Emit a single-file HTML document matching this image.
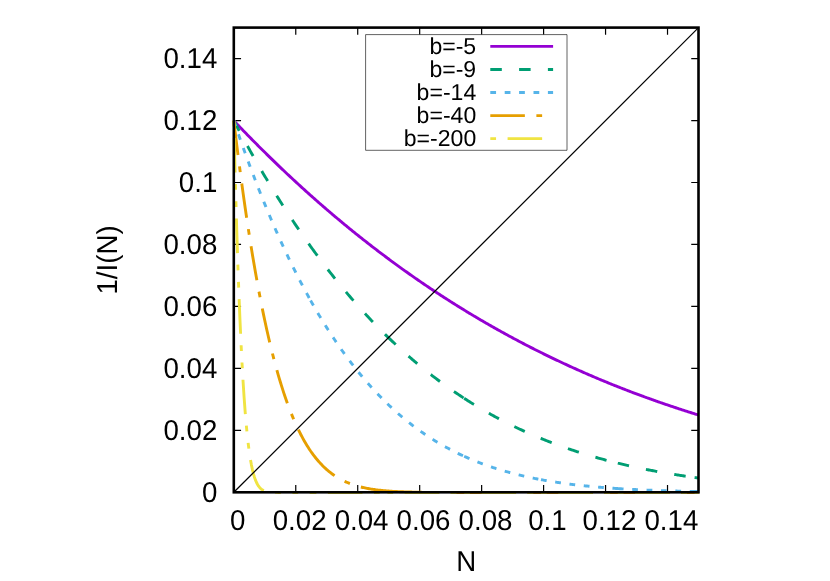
<!DOCTYPE html>
<html><head><meta charset="utf-8"><title>plot</title>
<style>
html,body{margin:0;padding:0;background:#fff;}
svg{display:block;will-change:transform;}
text{font-family:"Liberation Sans",sans-serif;font-size:27.67px;fill:#000;text-rendering:geometricPrecision;}
</style></head><body>
<svg width="830" height="581" viewBox="0 0 830 581">
<rect width="830" height="581" fill="#fff"/>
<path d="M295.76 492.30 v-7.26 M295.76 27.60 v7.26 M233.80 430.34 h7.26 M698.50 430.34 h-7.26 M357.72 492.30 v-7.26 M357.72 27.60 v7.26 M233.80 368.38 h7.26 M698.50 368.38 h-7.26 M419.68 492.30 v-7.26 M419.68 27.60 v7.26 M233.80 306.42 h7.26 M698.50 306.42 h-7.26 M481.64 492.30 v-7.26 M481.64 27.60 v7.26 M233.80 244.46 h7.26 M698.50 244.46 h-7.26 M543.60 492.30 v-7.26 M543.60 27.60 v7.26 M233.80 182.50 h7.26 M698.50 182.50 h-7.26 M605.56 492.30 v-7.26 M605.56 27.60 v7.26 M233.80 120.54 h7.26 M698.50 120.54 h-7.26 M667.52 492.30 v-7.26 M667.52 27.60 v7.26 M233.80 58.58 h7.26 M698.50 58.58 h-7.26" stroke="#000" stroke-width="1.2" fill="none"/>
<rect x="365.6" y="34.6" width="201.4" height="115.7" fill="#fff" stroke="#000" stroke-width="0.62" stroke-linejoin="round"/>
<g fill="none" stroke-width="2.9" stroke-linejoin="round">
<path d="M233.80 120.69 L234.83 121.78 L235.87 122.86 L236.90 123.95 L237.93 125.03 L238.96 126.11 L240.00 127.18 L241.03 128.26 L242.06 129.33 L243.09 130.40 L244.13 131.46 L245.16 132.53 L246.19 133.59 L247.22 134.65 L248.26 135.71 L249.29 136.76 L250.32 137.82 L251.36 138.87 L252.39 139.92 L253.42 140.96 L254.45 142.01 L255.49 143.05 L256.52 144.09 L257.55 145.12 L258.58 146.16 L259.62 147.19 L260.65 148.22 L261.68 149.25 L262.71 150.27 L263.75 151.30 L264.78 152.32 L265.81 153.33 L266.85 154.35 L267.88 155.36 L268.91 156.38 L269.94 157.39 L270.98 158.39 L272.01 159.40 L273.04 160.40 L274.07 161.40 L275.11 162.40 L276.14 163.39 L277.17 164.39 L278.20 165.38 L279.24 166.37 L280.27 167.35 L281.30 168.34 L282.34 169.32 L283.37 170.30 L284.40 171.28 L285.43 172.25 L286.47 173.23 L287.50 174.20 L288.53 175.17 L289.56 176.14 L290.60 177.10 L291.63 178.06 L292.66 179.02 L293.69 179.98 L294.73 180.94 L295.76 181.89 L296.79 182.84 L297.83 183.79 L298.86 184.74 L299.89 185.68 L300.92 186.62 L301.96 187.56 L302.99 188.50 L304.02 189.44 L305.05 190.37 L306.09 191.30 L307.12 192.23 L308.15 193.16 L309.18 194.08 L310.22 195.01 L310.60 195.35 M310.60 195.35 L311.25 195.93 L312.28 196.85 L313.32 197.76 L314.35 198.68 L315.38 199.59 L316.41 200.50 L317.45 201.41 L318.48 202.31 L319.51 203.22 L320.54 204.12 L321.58 205.02 L322.61 205.92 L323.64 206.81 L324.67 207.70 L325.71 208.59 L326.74 209.48 L327.77 210.37 L328.81 211.25 L329.84 212.14 L330.87 213.02 L331.90 213.90 L332.94 214.77 L333.97 215.65 L335.00 216.52 L336.03 217.39 L337.07 218.25 L338.10 219.12 L339.13 219.98 L340.16 220.85 L341.20 221.70 L342.23 222.56 L343.26 223.42 L344.30 224.27 L345.33 225.12 L346.36 225.97 L347.39 226.82 L348.43 227.66 L349.46 228.51 L350.49 229.35 L351.52 230.19 L352.56 231.02 L353.59 231.86 L354.62 232.69 L355.65 233.52 L356.69 234.35 L357.72 235.18 L358.75 236.00 L359.79 236.82 L360.82 237.64 L361.85 238.46 L362.88 239.28 L363.92 240.09 L364.95 240.90 L365.98 241.72 L367.01 242.52 L368.05 243.33 L369.08 244.13 L370.11 244.94 L371.14 245.74 L372.18 246.54 L373.21 247.33 L374.24 248.13 L375.28 248.92 L376.31 249.71 L377.34 250.50 L378.37 251.29 L379.41 252.07 L380.44 252.85 L381.47 253.63 L382.50 254.41 L383.54 255.19 L384.57 255.96 L385.60 256.74 L386.63 257.51 L387.40 258.08 M387.40 258.08 L387.67 258.28 L388.70 259.04 L389.73 259.81 L390.77 260.57 L391.80 261.33 L392.83 262.09 L393.86 262.85 L394.90 263.61 L395.93 264.36 L396.96 265.11 L397.99 265.86 L399.03 266.61 L400.06 267.35 L401.09 268.10 L402.12 268.84 L403.16 269.58 L404.19 270.32 L405.22 271.06 L406.26 271.79 L407.29 272.52 L408.32 273.25 L409.35 273.98 L410.39 274.71 L411.42 275.43 L412.45 276.16 L413.48 276.88 L414.52 277.60 L415.55 278.32 L416.58 279.03 L417.61 279.75 L418.65 280.46 L419.68 281.17 L420.71 281.88 L421.75 282.58 L422.78 283.29 L423.81 283.99 L424.84 284.69 L425.88 285.39 L426.91 286.09 L427.94 286.78 L428.97 287.48 L430.01 288.17 L431.04 288.86 L432.07 289.55 L433.10 290.23 L434.14 290.92 L435.17 291.60 L436.20 292.28 L437.24 292.96 L438.27 293.64 L439.30 294.31 L440.33 294.99 L441.37 295.66 L442.40 296.33 L443.43 297.00 L444.46 297.67 L445.50 298.33 L446.53 298.99 L447.56 299.65 L448.59 300.31 L449.63 300.97 L450.66 301.63 L451.69 302.28 L452.73 302.94 L453.76 303.59 L454.79 304.23 L455.82 304.88 L456.86 305.53 L457.89 306.17 L458.92 306.81 L459.95 307.45 L460.99 308.09 L462.02 308.73 L463.05 309.36 L464.08 310.00 L464.20 310.07 M464.20 310.07 L465.12 310.63 L466.15 311.26 L467.18 311.89 L468.22 312.51 L469.25 313.14 L470.28 313.76 L471.31 314.38 L472.35 315.00 L473.38 315.62 L474.41 316.24 L475.44 316.85 L476.48 317.47 L477.51 318.08 L478.54 318.69 L479.57 319.29 L480.61 319.90 L481.64 320.50 L482.67 321.11 L483.71 321.71 L484.74 322.31 L485.77 322.91 L486.80 323.50 L487.84 324.10 L488.87 324.69 L489.90 325.28 L490.93 325.87 L491.97 326.46 L493.00 327.05 L494.03 327.63 L495.06 328.21 L496.10 328.79 L497.13 329.37 L498.16 329.95 L499.20 330.53 L500.23 331.10 L501.26 331.68 L502.29 332.25 L503.33 332.82 L504.36 333.39 L505.39 333.95 L506.42 334.52 L507.46 335.08 L508.49 335.65 L509.52 336.21 L510.55 336.76 L511.59 337.32 L512.62 337.88 L513.65 338.43 L514.69 338.98 L515.72 339.54 L516.75 340.09 L517.78 340.63 L518.82 341.18 L519.85 341.72 L520.88 342.27 L521.91 342.81 L522.95 343.35 L523.98 343.89 L525.01 344.42 L526.04 344.96 L527.08 345.49 L528.11 346.03 L529.14 346.56 L530.18 347.09 L531.21 347.61 L532.24 348.14 L533.27 348.66 L534.31 349.19 L535.34 349.71 L536.37 350.23 L537.40 350.75 L538.44 351.27 L539.47 351.78 L540.50 352.30 L541.00 352.54 M541.00 352.54 L541.53 352.81 L542.57 353.32 L543.60 353.83 L544.63 354.34 L545.67 354.84 L546.70 355.35 L547.73 355.85 L548.76 356.35 L549.80 356.85 L550.83 357.35 L551.86 357.85 L552.89 358.35 L553.93 358.84 L554.96 359.34 L555.99 359.83 L557.02 360.32 L558.06 360.81 L559.09 361.29 L560.12 361.78 L561.16 362.27 L562.19 362.75 L563.22 363.23 L564.25 363.71 L565.29 364.19 L566.32 364.67 L567.35 365.14 L568.38 365.62 L569.42 366.09 L570.45 366.56 L571.48 367.03 L572.51 367.50 L573.55 367.97 L574.58 368.44 L575.61 368.90 L576.65 369.36 L577.68 369.83 L578.71 370.29 L579.74 370.75 L580.78 371.20 L581.81 371.66 L582.84 372.11 L583.87 372.57 L584.91 373.02 L585.94 373.47 L586.97 373.92 L588.00 374.37 L589.04 374.82 L590.07 375.26 L591.10 375.70 L592.14 376.15 L593.17 376.59 L594.20 377.03 L595.23 377.47 L596.27 377.90 L597.30 378.34 L598.33 378.77 L599.36 379.21 L600.40 379.64 L601.43 380.07 L602.46 380.50 L603.49 380.93 L604.53 381.35 L605.56 381.78 L606.59 382.20 L607.63 382.63 L608.66 383.05 L609.69 383.47 L610.72 383.89 L611.76 384.30 L612.79 384.72 L613.82 385.13 L614.85 385.55 L615.89 385.96 L616.92 386.37 L617.80 386.72 M617.80 386.72 L617.95 386.78 L618.98 387.19 L620.02 387.60 L621.05 388.00 L622.08 388.41 L623.12 388.81 L624.15 389.21 L625.18 389.61 L626.21 390.01 L627.25 390.41 L628.28 390.81 L629.31 391.20 L630.34 391.60 L631.38 391.99 L632.41 392.38 L633.44 392.77 L634.47 393.16 L635.51 393.55 L636.54 393.94 L637.57 394.32 L638.61 394.71 L639.64 395.09 L640.67 395.47 L641.70 395.85 L642.74 396.23 L643.77 396.61 L644.80 396.99 L645.83 397.36 L646.87 397.74 L647.90 398.11 L648.93 398.48 L649.96 398.85 L651.00 399.22 L652.03 399.59 L653.06 399.96 L654.10 400.33 L655.13 400.69 L656.16 401.06 L657.19 401.42 L658.23 401.78 L659.26 402.14 L660.29 402.50 L661.32 402.86 L662.36 403.22 L663.39 403.57 L664.42 403.93 L665.45 404.28 L666.49 404.63 L667.52 404.98 L668.55 405.33 L669.59 405.68 L670.62 406.03 L671.65 406.38 L672.68 406.72 L673.72 407.07 L674.75 407.41 L675.78 407.75 L676.81 408.09 L677.85 408.43 L678.88 408.77 L679.91 409.11 L680.94 409.44 L681.98 409.78 L683.01 410.11 L684.04 410.45 L685.08 410.78 L686.11 411.11 L687.14 411.44 L688.17 411.77 L689.21 412.09 L690.24 412.42 L691.27 412.75 L692.30 413.07 L693.34 413.39 L694.37 413.72 L694.60 413.79 M694.60 413.79 L695.40 414.04 L696.43 414.36 L697.47 414.68 L698.50 414.99" stroke="#9400d3"/>
<path d="M233.80 120.69 L234.83 122.65 L235.87 124.60 L236.90 126.54 L237.93 128.47 L238.96 130.40 L240.00 132.32 L241.03 134.23 L242.06 136.13 L243.09 138.03 L244.13 139.92 L245.16 141.80 L246.19 143.67 L247.22 145.54 L248.26 147.40 L249.29 149.25 L250.32 151.09 L251.36 152.93 L252.39 154.76 L253.42 156.58 L254.45 158.39 L255.49 160.20 L256.52 162.00 L257.55 163.79 L258.58 165.58 L259.62 167.35 L260.65 169.13 L261.68 170.89 L262.71 172.64 L263.75 174.39 L264.78 176.14 L265.81 177.87 L266.85 179.60 L267.88 181.32 L268.91 183.03 L269.94 184.74 L270.98 186.43 L272.01 188.13 L273.04 189.81 L274.07 191.49 L275.11 193.16 L276.14 194.82 L277.17 196.48 L278.20 198.13 L279.24 199.77 L280.27 201.41 L281.30 203.04 L282.34 204.66 L283.37 206.27 L284.40 207.88 L285.43 209.48 L286.47 211.08 L287.50 212.66 L288.53 214.25 L289.56 215.82 L290.60 217.39 L291.63 218.95 L292.66 220.50 L293.69 222.05 L294.73 223.59 L295.76 225.12 L296.79 226.65 L297.83 228.17 L298.86 229.68 L299.89 231.19 L300.92 232.69 L301.96 234.18 L302.99 235.67 L304.02 237.15 L305.05 238.62 L306.09 240.09 L307.12 241.55 L308.15 243.01 L309.18 244.46 L310.22 245.90 L310.60 246.43 M310.60 246.43 L311.25 247.33 L312.28 248.76 L313.32 250.18 L314.35 251.60 L315.38 253.01 L316.41 254.41 L317.45 255.81 L318.48 257.20 L319.51 258.58 L320.54 259.96 L321.58 261.33 L322.61 262.70 L323.64 264.06 L324.67 265.41 L325.71 266.76 L326.74 268.10 L327.77 269.43 L328.81 270.76 L329.84 272.08 L330.87 273.40 L331.90 274.71 L332.94 276.01 L333.97 277.31 L335.00 278.60 L336.03 279.89 L337.07 281.17 L338.10 282.44 L339.13 283.71 L340.16 284.97 L341.20 286.23 L342.23 287.48 L343.26 288.72 L344.30 289.96 L345.33 291.19 L346.36 292.42 L347.39 293.64 L348.43 294.85 L349.46 296.06 L350.49 297.27 L351.52 298.46 L352.56 299.65 L353.59 300.84 L354.62 302.02 L355.65 303.20 L356.69 304.36 L357.72 305.53 L358.75 306.69 L359.79 307.84 L360.82 308.98 L361.85 310.12 L362.88 311.26 L363.92 312.39 L364.95 313.51 L365.98 314.63 L367.01 315.74 L368.05 316.85 L369.08 317.95 L370.11 319.05 L371.14 320.14 L372.18 321.23 L373.21 322.31 L374.24 323.38 L375.28 324.45 L376.31 325.52 L377.34 326.58 L378.37 327.63 L379.41 328.68 L380.44 329.72 L381.47 330.76 L382.50 331.79 L383.54 332.82 L384.57 333.84 L385.60 334.86 L386.63 335.87 L387.40 336.62 M387.40 336.62 L387.67 336.88 L388.70 337.88 L389.73 338.87 L390.77 339.87 L391.80 340.85 L392.83 341.83 L393.86 342.81 L394.90 343.78 L395.93 344.75 L396.96 345.71 L397.99 346.66 L399.03 347.61 L400.06 348.56 L401.09 349.50 L402.12 350.44 L403.16 351.37 L404.19 352.30 L405.22 353.22 L406.26 354.13 L407.29 355.05 L408.32 355.95 L409.35 356.85 L410.39 357.75 L411.42 358.65 L412.45 359.53 L413.48 360.42 L414.52 361.29 L415.55 362.17 L416.58 363.04 L417.61 363.90 L418.65 364.76 L419.68 365.62 L420.71 366.47 L421.75 367.31 L422.78 368.16 L423.81 368.99 L424.84 369.83 L425.88 370.65 L426.91 371.48 L427.94 372.30 L428.97 373.11 L430.01 373.92 L431.04 374.73 L432.07 375.53 L433.10 376.32 L434.14 377.12 L435.17 377.90 L436.20 378.69 L437.24 379.47 L438.27 380.24 L439.30 381.01 L440.33 381.78 L441.37 382.54 L442.40 383.30 L443.43 384.05 L444.46 384.80 L445.50 385.55 L446.53 386.29 L447.56 387.03 L448.59 387.76 L449.63 388.49 L450.66 389.21 L451.69 389.93 L452.73 390.65 L453.76 391.36 L454.79 392.07 L455.82 392.77 L456.86 393.47 L457.89 394.17 L458.92 394.86 L459.95 395.55 L460.99 396.23 L462.02 396.91 L463.05 397.59 L464.08 398.26 L464.20 398.34 M464.20 398.34 L465.12 398.93 L466.15 399.59 L467.18 400.25 L468.22 400.91 L469.25 401.56 L470.28 402.21 L471.31 402.86 L472.35 403.50 L473.38 404.14 L474.41 404.77 L475.44 405.40 L476.48 406.03 L477.51 406.65 L478.54 407.27 L479.57 407.89 L480.61 408.50 L481.64 409.11 L482.67 409.71 L483.71 410.31 L484.74 410.91 L485.77 411.50 L486.80 412.09 L487.84 412.68 L488.87 413.26 L489.90 413.84 L490.93 414.42 L491.97 414.99 L493.00 415.56 L494.03 416.13 L495.06 416.69 L496.10 417.25 L497.13 417.81 L498.16 418.36 L499.20 418.91 L500.23 419.45 L501.26 419.99 L502.29 420.53 L503.33 421.07 L504.36 421.60 L505.39 422.13 L506.42 422.65 L507.46 423.18 L508.49 423.70 L509.52 424.21 L510.55 424.72 L511.59 425.23 L512.62 425.74 L513.65 426.24 L514.69 426.74 L515.72 427.24 L516.75 427.73 L517.78 428.22 L518.82 428.71 L519.85 429.20 L520.88 429.68 L521.91 430.16 L522.95 430.63 L523.98 431.10 L525.01 431.57 L526.04 432.04 L527.08 432.50 L528.11 432.96 L529.14 433.42 L530.18 433.87 L531.21 434.33 L532.24 434.77 L533.27 435.22 L534.31 435.66 L535.34 436.10 L536.37 436.54 L537.40 436.97 L538.44 437.41 L539.47 437.83 L540.50 438.26 L541.00 438.46 M541.00 438.46 L541.53 438.68 L542.57 439.10 L543.60 439.52 L544.63 439.94 L545.67 440.35 L546.70 440.76 L547.73 441.16 L548.76 441.57 L549.80 441.97 L550.83 442.37 L551.86 442.76 L552.89 443.16 L553.93 443.55 L554.96 443.94 L555.99 444.32 L557.02 444.70 L558.06 445.08 L559.09 445.46 L560.12 445.84 L561.16 446.21 L562.19 446.58 L563.22 446.95 L564.25 447.31 L565.29 447.68 L566.32 448.04 L567.35 448.39 L568.38 448.75 L569.42 449.10 L570.45 449.45 L571.48 449.80 L572.51 450.15 L573.55 450.49 L574.58 450.83 L575.61 451.17 L576.65 451.51 L577.68 451.84 L578.71 452.17 L579.74 452.50 L580.78 452.83 L581.81 453.15 L582.84 453.48 L583.87 453.80 L584.91 454.12 L585.94 454.43 L586.97 454.75 L588.00 455.06 L589.04 455.37 L590.07 455.67 L591.10 455.98 L592.14 456.28 L593.17 456.58 L594.20 456.88 L595.23 457.18 L596.27 457.47 L597.30 457.76 L598.33 458.05 L599.36 458.34 L600.40 458.63 L601.43 458.91 L602.46 459.19 L603.49 459.47 L604.53 459.75 L605.56 460.03 L606.59 460.30 L607.63 460.57 L608.66 460.84 L609.69 461.11 L610.72 461.38 L611.76 461.64 L612.79 461.91 L613.82 462.17 L614.85 462.42 L615.89 462.68 L616.92 462.94 L617.80 463.15 M617.80 463.15 L617.95 463.19 L618.98 463.44 L620.02 463.69 L621.05 463.94 L622.08 464.18 L623.12 464.43 L624.15 464.67 L625.18 464.91 L626.21 465.15 L627.25 465.38 L628.28 465.62 L629.31 465.85 L630.34 466.08 L631.38 466.31 L632.41 466.54 L633.44 466.76 L634.47 466.99 L635.51 467.21 L636.54 467.43 L637.57 467.65 L638.61 467.87 L639.64 468.09 L640.67 468.30 L641.70 468.51 L642.74 468.72 L643.77 468.93 L644.80 469.14 L645.83 469.35 L646.87 469.55 L647.90 469.76 L648.93 469.96 L649.96 470.16 L651.00 470.36 L652.03 470.55 L653.06 470.75 L654.10 470.94 L655.13 471.14 L656.16 471.33 L657.19 471.52 L658.23 471.71 L659.26 471.89 L660.29 472.08 L661.32 472.26 L662.36 472.44 L663.39 472.62 L664.42 472.80 L665.45 472.98 L666.49 473.16 L667.52 473.33 L668.55 473.51 L669.59 473.68 L670.62 473.85 L671.65 474.02 L672.68 474.19 L673.72 474.36 L674.75 474.52 L675.78 474.69 L676.81 474.85 L677.85 475.01 L678.88 475.17 L679.91 475.33 L680.94 475.49 L681.98 475.65 L683.01 475.80 L684.04 475.96 L685.08 476.11 L686.11 476.26 L687.14 476.41 L688.17 476.56 L689.21 476.71 L690.24 476.86 L691.27 477.00 L692.30 477.15 L693.34 477.29 L694.37 477.43 L694.60 477.46 M694.60 477.46 L695.40 477.57 L696.43 477.71 L697.47 477.85 L698.50 477.99" stroke="#009e73" stroke-dasharray="11.52 17.28"/>
<path d="M233.80 120.69 L234.83 123.73 L235.87 126.75 L236.90 129.76 L237.93 132.74 L238.96 135.71 L240.00 138.66 L241.03 141.59 L242.06 144.50 L243.09 147.40 L244.13 150.27 L245.16 153.13 L246.19 155.97 L247.22 158.79 L248.26 161.60 L249.29 164.39 L250.32 167.16 L251.36 169.91 L252.39 172.64 L253.42 175.36 L254.45 178.06 L255.49 180.74 L256.52 183.41 L257.55 186.06 L258.58 188.69 L259.62 191.30 L260.65 193.90 L261.68 196.48 L262.71 199.04 L263.75 201.59 L264.78 204.12 L265.81 206.63 L266.85 209.13 L267.88 211.61 L268.91 214.07 L269.94 216.52 L270.98 218.95 L272.01 221.36 L273.04 223.76 L274.07 226.14 L275.11 228.51 L276.14 230.85 L277.17 233.19 L278.20 235.51 L279.24 237.81 L280.27 240.09 L281.30 242.36 L282.34 244.62 L283.37 246.85 L284.40 249.08 L285.43 251.29 L286.47 253.48 L287.50 255.65 L288.53 257.82 L289.56 259.96 L290.60 262.09 L291.63 264.21 L292.66 266.31 L293.69 268.40 L294.73 270.47 L295.76 272.52 L296.79 274.56 L297.83 276.59 L298.86 278.60 L299.89 280.60 L300.92 282.58 L301.96 284.55 L302.99 286.51 L304.02 288.45 L305.05 290.37 L306.09 292.28 L307.12 294.18 L308.15 296.06 L309.18 297.93 L310.22 299.79 L310.60 300.47 M310.60 300.47 L311.25 301.63 L312.28 303.46 L313.32 305.27 L314.35 307.07 L315.38 308.86 L316.41 310.63 L317.45 312.39 L318.48 314.14 L319.51 315.87 L320.54 317.59 L321.58 319.29 L322.61 320.99 L323.64 322.67 L324.67 324.33 L325.71 325.99 L326.74 327.63 L327.77 329.26 L328.81 330.87 L329.84 332.48 L330.87 334.07 L331.90 335.65 L332.94 337.21 L333.97 338.76 L335.00 340.30 L336.03 341.83 L337.07 343.35 L338.10 344.85 L339.13 346.34 L340.16 347.82 L341.20 349.29 L342.23 350.75 L343.26 352.19 L344.30 353.62 L345.33 355.05 L346.36 356.45 L347.39 357.85 L348.43 359.24 L349.46 360.61 L350.49 361.98 L351.52 363.33 L352.56 364.67 L353.59 366.00 L354.62 367.31 L355.65 368.62 L356.69 369.92 L357.72 371.20 L358.75 372.48 L359.79 373.74 L360.82 374.99 L361.85 376.24 L362.88 377.47 L363.92 378.69 L364.95 379.90 L365.98 381.10 L367.01 382.29 L368.05 383.47 L369.08 384.64 L370.11 385.79 L371.14 386.94 L372.18 388.08 L373.21 389.21 L374.24 390.33 L375.28 391.44 L376.31 392.54 L377.34 393.63 L378.37 394.71 L379.41 395.78 L380.44 396.84 L381.47 397.89 L382.50 398.93 L383.54 399.96 L384.57 400.98 L385.60 402.00 L386.63 403.00 L387.40 403.74 M387.40 403.74 L387.67 404.00 L388.70 404.98 L389.73 405.96 L390.77 406.93 L391.80 407.89 L392.83 408.84 L393.86 409.78 L394.90 410.71 L395.93 411.64 L396.96 412.55 L397.99 413.46 L399.03 414.36 L400.06 415.25 L401.09 416.13 L402.12 417.00 L403.16 417.87 L404.19 418.72 L405.22 419.57 L406.26 420.41 L407.29 421.25 L408.32 422.07 L409.35 422.89 L410.39 423.70 L411.42 424.50 L412.45 425.29 L413.48 426.08 L414.52 426.85 L415.55 427.62 L416.58 428.39 L417.61 429.14 L418.65 429.89 L419.68 430.63 L420.71 431.36 L421.75 432.09 L422.78 432.81 L423.81 433.52 L424.84 434.23 L425.88 434.92 L426.91 435.61 L427.94 436.30 L428.97 436.97 L430.01 437.64 L431.04 438.31 L432.07 438.96 L433.10 439.61 L434.14 440.26 L435.17 440.89 L436.20 441.52 L437.24 442.15 L438.27 442.76 L439.30 443.37 L440.33 443.98 L441.37 444.58 L442.40 445.17 L443.43 445.75 L444.46 446.33 L445.50 446.91 L446.53 447.47 L447.56 448.04 L448.59 448.59 L449.63 449.14 L450.66 449.69 L451.69 450.22 L452.73 450.76 L453.76 451.28 L454.79 451.80 L455.82 452.32 L456.86 452.83 L457.89 453.33 L458.92 453.83 L459.95 454.33 L460.99 454.82 L462.02 455.30 L463.05 455.78 L464.08 456.25 L464.20 456.30 M464.20 456.30 L465.12 456.72 L466.15 457.18 L467.18 457.63 L468.22 458.09 L469.25 458.53 L470.28 458.98 L471.31 459.41 L472.35 459.84 L473.38 460.27 L474.41 460.69 L475.44 461.11 L476.48 461.53 L477.51 461.93 L478.54 462.34 L479.57 462.74 L480.61 463.13 L481.64 463.52 L482.67 463.91 L483.71 464.29 L484.74 464.67 L485.77 465.04 L486.80 465.41 L487.84 465.77 L488.87 466.13 L489.90 466.49 L490.93 466.84 L491.97 467.19 L493.00 467.53 L494.03 467.87 L495.06 468.21 L496.10 468.54 L497.13 468.86 L498.16 469.19 L499.20 469.51 L500.23 469.82 L501.26 470.14 L502.29 470.45 L503.33 470.75 L504.36 471.05 L505.39 471.35 L506.42 471.64 L507.46 471.93 L508.49 472.22 L509.52 472.50 L510.55 472.78 L511.59 473.06 L512.62 473.33 L513.65 473.60 L514.69 473.87 L515.72 474.13 L516.75 474.39 L517.78 474.65 L518.82 474.90 L519.85 475.16 L520.88 475.40 L521.91 475.65 L522.95 475.89 L523.98 476.13 L525.01 476.36 L526.04 476.59 L527.08 476.82 L528.11 477.05 L529.14 477.27 L530.18 477.50 L531.21 477.71 L532.24 477.93 L533.27 478.14 L534.31 478.35 L535.34 478.56 L536.37 478.76 L537.40 478.96 L538.44 479.16 L539.47 479.36 L540.50 479.55 L541.00 479.65 M541.00 479.65 L541.53 479.75 L542.57 479.93 L543.60 480.12 L544.63 480.31 L545.67 480.49 L546.70 480.67 L547.73 480.84 L548.76 481.02 L549.80 481.19 L550.83 481.36 L551.86 481.53 L552.89 481.69 L553.93 481.86 L554.96 482.02 L555.99 482.18 L557.02 482.33 L558.06 482.49 L559.09 482.64 L560.12 482.79 L561.16 482.94 L562.19 483.09 L563.22 483.23 L564.25 483.37 L565.29 483.52 L566.32 483.65 L567.35 483.79 L568.38 483.93 L569.42 484.06 L570.45 484.19 L571.48 484.32 L572.51 484.45 L573.55 484.57 L574.58 484.70 L575.61 484.82 L576.65 484.94 L577.68 485.06 L578.71 485.18 L579.74 485.29 L580.78 485.41 L581.81 485.52 L582.84 485.63 L583.87 485.74 L584.91 485.85 L585.94 485.95 L586.97 486.06 L588.00 486.16 L589.04 486.26 L590.07 486.36 L591.10 486.46 L592.14 486.56 L593.17 486.65 L594.20 486.75 L595.23 486.84 L596.27 486.93 L597.30 487.02 L598.33 487.11 L599.36 487.20 L600.40 487.29 L601.43 487.37 L602.46 487.46 L603.49 487.54 L604.53 487.62 L605.56 487.70 L606.59 487.78 L607.63 487.86 L608.66 487.93 L609.69 488.01 L610.72 488.08 L611.76 488.16 L612.79 488.23 L613.82 488.30 L614.85 488.37 L615.89 488.44 L616.92 488.51 L617.80 488.57 M617.80 488.57 L617.95 488.58 L618.98 488.64 L620.02 488.71 L621.05 488.77 L622.08 488.83 L623.12 488.90 L624.15 488.96 L625.18 489.02 L626.21 489.08 L627.25 489.13 L628.28 489.19 L629.31 489.25 L630.34 489.30 L631.38 489.36 L632.41 489.41 L633.44 489.46 L634.47 489.52 L635.51 489.57 L636.54 489.62 L637.57 489.67 L638.61 489.72 L639.64 489.77 L640.67 489.81 L641.70 489.86 L642.74 489.91 L643.77 489.95 L644.80 490.00 L645.83 490.04 L646.87 490.08 L647.90 490.12 L648.93 490.17 L649.96 490.21 L651.00 490.25 L652.03 490.29 L653.06 490.33 L654.10 490.36 L655.13 490.40 L656.16 490.44 L657.19 490.48 L658.23 490.51 L659.26 490.55 L660.29 490.58 L661.32 490.62 L662.36 490.65 L663.39 490.68 L664.42 490.71 L665.45 490.75 L666.49 490.78 L667.52 490.81 L668.55 490.84 L669.59 490.87 L670.62 490.90 L671.65 490.93 L672.68 490.96 L673.72 490.98 L674.75 491.01 L675.78 491.04 L676.81 491.06 L677.85 491.09 L678.88 491.12 L679.91 491.14 L680.94 491.17 L681.98 491.19 L683.01 491.21 L684.04 491.24 L685.08 491.26 L686.11 491.28 L687.14 491.31 L688.17 491.33 L689.21 491.35 L690.24 491.37 L691.27 491.39 L692.30 491.41 L693.34 491.43 L694.37 491.45 L694.60 491.46 M694.60 491.46 L695.40 491.47 L696.43 491.49 L697.47 491.51 L698.50 491.53" stroke="#56b4e9" stroke-dasharray="5.76 8.64"/>
<path d="M233.80 120.69 L234.83 129.33 L235.87 137.82 L236.90 146.16 L237.93 154.35 L238.96 162.40 L240.00 170.30 L241.03 178.06 L242.06 185.68 L243.09 193.16 L244.13 200.50 L245.16 207.70 L246.19 214.77 L247.22 221.70 L248.26 228.51 L249.29 235.18 L250.32 241.72 L251.36 248.13 L252.39 254.41 L253.42 260.57 L254.45 266.61 L255.49 272.52 L256.52 278.32 L257.55 283.99 L258.58 289.55 L259.62 294.99 L260.65 300.31 L261.68 305.53 L262.71 310.63 L263.75 315.62 L264.78 320.50 L265.81 325.28 L266.85 329.95 L267.88 334.52 L268.91 338.98 L269.94 343.35 L270.98 347.61 L272.01 351.78 L273.04 355.85 L274.07 359.83 L275.11 363.71 L276.14 367.50 L277.17 371.20 L278.20 374.82 L279.24 378.34 L280.27 381.78 L281.30 385.13 L282.34 388.41 L283.37 391.60 L284.40 394.71 L285.43 397.74 L286.47 400.69 L287.50 403.57 L288.53 406.38 L289.56 409.11 L290.60 411.77 L291.63 414.36 L292.66 416.88 L293.69 419.33 L294.73 421.72 L295.76 424.04 L296.79 426.30 L297.83 428.50 L298.86 430.63 L299.89 432.71 L300.92 434.72 L301.96 436.68 L302.99 438.59 L304.02 440.44 L305.05 442.23 L306.09 443.98 L307.12 445.67 L308.15 447.31 L309.18 448.91 L310.22 450.45 L310.60 451.01 M310.60 451.01 L311.25 451.95 L312.28 453.41 L313.32 454.82 L314.35 456.18 L315.38 457.50 L316.41 458.79 L317.45 460.03 L318.48 461.23 L319.51 462.40 L320.54 463.52 L321.58 464.61 L322.61 465.67 L323.64 466.69 L324.67 467.68 L325.71 468.63 L326.74 469.55 L327.77 470.45 L328.81 471.31 L329.84 472.14 L330.87 472.94 L331.90 473.72 L332.94 474.47 L333.97 475.19 L335.00 475.89 L336.03 476.56 L337.07 477.21 L338.10 477.84 L339.13 478.44 L340.16 479.02 L341.20 479.58 L342.23 480.12 L343.26 480.64 L344.30 481.14 L345.33 481.62 L346.36 482.09 L347.39 482.53 L348.43 482.96 L349.46 483.37 L350.49 483.77 L351.52 484.15 L352.56 484.52 L353.59 484.87 L354.62 485.21 L355.65 485.53 L356.69 485.85 L357.72 486.15 L358.75 486.43 L359.79 486.71 L360.82 486.97 L361.85 487.23 L362.88 487.47 L363.92 487.70 L364.95 487.92 L365.98 488.14 L367.01 488.34 L368.05 488.54 L369.08 488.72 L370.11 488.90 L371.14 489.08 L372.18 489.24 L373.21 489.40 L374.24 489.55 L375.28 489.69 L376.31 489.83 L377.34 489.96 L378.37 490.08 L379.41 490.20 L380.44 490.31 L381.47 490.42 L382.50 490.53 L383.54 490.63 L384.57 490.72 L385.60 490.81 L386.63 490.89 L387.40 490.95 M387.40 490.95 L387.67 490.98 L388.70 491.05 L389.73 491.13 L390.77 491.20 L391.80 491.26 L392.83 491.33 L393.86 491.39 L394.90 491.45 L395.93 491.50 L396.96 491.55 L397.99 491.60 L399.03 491.65 L400.06 491.69 L401.09 491.73 L402.12 491.77 L403.16 491.81 L404.19 491.85 L405.22 491.88 L406.26 491.91 L407.29 491.95 L408.32 491.97 L409.35 492.00 L410.39 492.03 L411.42 492.05 L412.45 492.08 L413.48 492.10 L414.52 492.12 L415.55 492.14 L416.58 492.16 L417.61 492.17 L418.65 492.19 L419.68 492.21 L420.71 492.22 L421.75 492.24 L422.78 492.25 L423.81 492.26 L424.84 492.27 L425.88 492.28 L426.91 492.29 L427.94 492.30 L428.97 492.31 L430.01 492.32 L431.04 492.33 L432.07 492.34 L433.10 492.34 L434.14 492.35 L435.17 492.36 L436.20 492.36 L437.24 492.37 L438.27 492.37 L439.30 492.38 L440.33 492.38 L441.37 492.39 L442.40 492.39 L443.43 492.40 L444.46 492.40 L445.50 492.40 L446.53 492.41 L447.56 492.41 L448.59 492.41 L449.63 492.41 L450.66 492.42 L451.69 492.42 L452.73 492.42 L453.76 492.42 L454.79 492.43 L455.82 492.43 L456.86 492.43 L457.89 492.43 L458.92 492.43 L459.95 492.43 L460.99 492.43 L462.02 492.44 L463.05 492.44 L464.08 492.44 L464.20 492.44 M464.20 492.44 L465.12 492.44 L466.15 492.44 L467.18 492.44 L468.22 492.44 L469.25 492.44 L470.28 492.44 L471.31 492.44 L472.35 492.44 L473.38 492.44 L474.41 492.44 L475.44 492.44 L476.48 492.45 L477.51 492.45 L478.54 492.45 L479.57 492.45 L480.61 492.45 L481.64 492.45 L482.67 492.45 L483.71 492.45 L484.74 492.45 L485.77 492.45 L486.80 492.45 L487.84 492.45 L488.87 492.45 L489.90 492.45 L490.93 492.45 L491.97 492.45 L493.00 492.45 L494.03 492.45 L495.06 492.45 L496.10 492.45 L497.13 492.45 L498.16 492.45 L499.20 492.45 L500.23 492.45 L501.26 492.45 L502.29 492.45 L503.33 492.45 L504.36 492.45 L505.39 492.45 L506.42 492.45 L507.46 492.45 L508.49 492.45 L509.52 492.45 L510.55 492.45 L511.59 492.45 L512.62 492.45 L513.65 492.45 L514.69 492.45 L515.72 492.45 L516.75 492.45 L517.78 492.45 L518.82 492.45 L519.85 492.45 L520.88 492.45 L521.91 492.45 L522.95 492.45 L523.98 492.45 L525.01 492.45 L526.04 492.45 L527.08 492.45 L528.11 492.45 L529.14 492.45 L530.18 492.45 L531.21 492.45 L532.24 492.45 L533.27 492.45 L534.31 492.45 L535.34 492.45 L536.37 492.45 L537.40 492.45 L538.44 492.45 L539.47 492.45 L540.50 492.45 L541.00 492.45 M541.00 492.45 L541.53 492.45 L542.57 492.45 L543.60 492.45 L544.63 492.45 L545.67 492.45 L546.70 492.45 L547.73 492.45 L548.76 492.45 L549.80 492.45 L550.83 492.45 L551.86 492.45 L552.89 492.45 L553.93 492.45 L554.96 492.45 L555.99 492.45 L557.02 492.45 L558.06 492.45 L559.09 492.45 L560.12 492.45 L561.16 492.45 L562.19 492.45 L563.22 492.45 L564.25 492.45 L565.29 492.45 L566.32 492.45 L567.35 492.45 L568.38 492.45 L569.42 492.45 L570.45 492.45 L571.48 492.45 L572.51 492.45 L573.55 492.45 L574.58 492.45 L575.61 492.45 L576.65 492.45 L577.68 492.45 L578.71 492.45 L579.74 492.45 L580.78 492.45 L581.81 492.45 L582.84 492.45 L583.87 492.45 L584.91 492.45 L585.94 492.45 L586.97 492.45 L588.00 492.45 L589.04 492.45 L590.07 492.45 L591.10 492.45 L592.14 492.45 L593.17 492.45 L594.20 492.45 L595.23 492.45 L596.27 492.45 L597.30 492.45 L598.33 492.45 L599.36 492.45 L600.40 492.45 L601.43 492.45 L602.46 492.45 L603.49 492.45 L604.53 492.45 L605.56 492.45 L606.59 492.45 L607.63 492.45 L608.66 492.45 L609.69 492.45 L610.72 492.45 L611.76 492.45 L612.79 492.45 L613.82 492.45 L614.85 492.45 L615.89 492.45 L616.92 492.45 L617.80 492.45 M617.80 492.45 L617.95 492.45 L618.98 492.45 L620.02 492.45 L621.05 492.45 L622.08 492.45 L623.12 492.45 L624.15 492.45 L625.18 492.45 L626.21 492.45 L627.25 492.45 L628.28 492.45 L629.31 492.45 L630.34 492.45 L631.38 492.45 L632.41 492.45 L633.44 492.45 L634.47 492.45 L635.51 492.45 L636.54 492.45 L637.57 492.45 L638.61 492.45 L639.64 492.45 L640.67 492.45 L641.70 492.45 L642.74 492.45 L643.77 492.45 L644.80 492.45 L645.83 492.45 L646.87 492.45 L647.90 492.45 L648.93 492.45 L649.96 492.45 L651.00 492.45 L652.03 492.45 L653.06 492.45 L654.10 492.45 L655.13 492.45 L656.16 492.45 L657.19 492.45 L658.23 492.45 L659.26 492.45 L660.29 492.45 L661.32 492.45 L662.36 492.45 L663.39 492.45 L664.42 492.45 L665.45 492.45 L666.49 492.45 L667.52 492.45 L668.55 492.45 L669.59 492.45 L670.62 492.45 L671.65 492.45 L672.68 492.45 L673.72 492.45 L674.75 492.45 L675.78 492.45 L676.81 492.45 L677.85 492.45 L678.88 492.45 L679.91 492.45 L680.94 492.45 L681.98 492.45 L683.01 492.45 L684.04 492.45 L685.08 492.45 L686.11 492.45 L687.14 492.45 L688.17 492.45 L689.21 492.45 L690.24 492.45 L691.27 492.45 L692.30 492.45 L693.34 492.45 L694.37 492.45 L694.60 492.45 M694.60 492.45 L695.40 492.45 L696.43 492.45 L697.47 492.45 L698.50 492.45" stroke="#e69f00" stroke-dasharray="34.56 11.52 5.76 11.52"/>
<path d="M233.80 120.69 L234.83 162.40 L235.87 200.50 L236.90 235.18 L237.93 266.61 L238.96 294.99 L240.00 320.50 L241.03 343.35 L242.06 363.71 L243.09 381.78 L244.13 397.74 L245.16 411.77 L246.19 424.04 L247.22 434.72 L248.26 443.98 L249.29 451.95 L250.32 458.79 L251.36 464.61 L252.39 469.55 L253.42 473.72 L254.45 477.21 L255.49 480.12 L256.52 482.53 L257.55 484.52 L258.58 486.15 L259.62 487.47 L260.65 488.54 L261.68 489.40 L262.71 490.08 L263.75 490.63 L264.78 491.05 L265.81 491.39 L266.85 491.65 L267.88 491.85 L268.91 492.00 L269.94 492.12 L270.98 492.21 L272.01 492.27 L273.04 492.32 L274.07 492.36 L275.11 492.38 L276.14 492.40 L277.17 492.42 L278.20 492.43 L279.24 492.43 L280.27 492.44 L281.30 492.44 L282.34 492.45 L283.37 492.45 L284.40 492.45 L285.43 492.45 L286.47 492.45 L287.50 492.45 L288.53 492.45 L289.56 492.45 L290.60 492.45 L291.63 492.45 L292.66 492.45 L293.69 492.45 L294.73 492.45 L295.76 492.45 L296.79 492.45 L297.83 492.45 L298.86 492.45 L299.89 492.45 L300.92 492.45 L301.96 492.45 L302.99 492.45 L304.02 492.45 L305.05 492.45 L306.09 492.45 L307.12 492.45 L308.15 492.45 L309.18 492.45 L310.22 492.45 L310.60 492.45 M310.60 492.45 L311.25 492.45 L312.28 492.45 L313.32 492.45 L314.35 492.45 L315.38 492.45 L316.41 492.45 L317.45 492.45 L318.48 492.45 L319.51 492.45 L320.54 492.45 L321.58 492.45 L322.61 492.45 L323.64 492.45 L324.67 492.45 L325.71 492.45 L326.74 492.45 L327.77 492.45 L328.81 492.45 L329.84 492.45 L330.87 492.45 L331.90 492.45 L332.94 492.45 L333.97 492.45 L335.00 492.45 L336.03 492.45 L337.07 492.45 L338.10 492.45 L339.13 492.45 L340.16 492.45 L341.20 492.45 L342.23 492.45 L343.26 492.45 L344.30 492.45 L345.33 492.45 L346.36 492.45 L347.39 492.45 L348.43 492.45 L349.46 492.45 L350.49 492.45 L351.52 492.45 L352.56 492.45 L353.59 492.45 L354.62 492.45 L355.65 492.45 L356.69 492.45 L357.72 492.45 L358.75 492.45 L359.79 492.45 L360.82 492.45 L361.85 492.45 L362.88 492.45 L363.92 492.45 L364.95 492.45 L365.98 492.45 L367.01 492.45 L368.05 492.45 L369.08 492.45 L370.11 492.45 L371.14 492.45 L372.18 492.45 L373.21 492.45 L374.24 492.45 L375.28 492.45 L376.31 492.45 L377.34 492.45 L378.37 492.45 L379.41 492.45 L380.44 492.45 L381.47 492.45 L382.50 492.45 L383.54 492.45 L384.57 492.45 L385.60 492.45 L386.63 492.45 L387.40 492.45 M387.40 492.45 L387.67 492.45 L388.70 492.45 L389.73 492.45 L390.77 492.45 L391.80 492.45 L392.83 492.45 L393.86 492.45 L394.90 492.45 L395.93 492.45 L396.96 492.45 L397.99 492.45 L399.03 492.45 L400.06 492.45 L401.09 492.45 L402.12 492.45 L403.16 492.45 L404.19 492.45 L405.22 492.45 L406.26 492.45 L407.29 492.45 L408.32 492.45 L409.35 492.45 L410.39 492.45 L411.42 492.45 L412.45 492.45 L413.48 492.45 L414.52 492.45 L415.55 492.45 L416.58 492.45 L417.61 492.45 L418.65 492.45 L419.68 492.45 L420.71 492.45 L421.75 492.45 L422.78 492.45 L423.81 492.45 L424.84 492.45 L425.88 492.45 L426.91 492.45 L427.94 492.45 L428.97 492.45 L430.01 492.45 L431.04 492.45 L432.07 492.45 L433.10 492.45 L434.14 492.45 L435.17 492.45 L436.20 492.45 L437.24 492.45 L438.27 492.45 L439.30 492.45 L440.33 492.45 L441.37 492.45 L442.40 492.45 L443.43 492.45 L444.46 492.45 L445.50 492.45 L446.53 492.45 L447.56 492.45 L448.59 492.45 L449.63 492.45 L450.66 492.45 L451.69 492.45 L452.73 492.45 L453.76 492.45 L454.79 492.45 L455.82 492.45 L456.86 492.45 L457.89 492.45 L458.92 492.45 L459.95 492.45 L460.99 492.45 L462.02 492.45 L463.05 492.45 L464.08 492.45 L464.20 492.45 M464.20 492.45 L465.12 492.45 L466.15 492.45 L467.18 492.45 L468.22 492.45 L469.25 492.45 L470.28 492.45 L471.31 492.45 L472.35 492.45 L473.38 492.45 L474.41 492.45 L475.44 492.45 L476.48 492.45 L477.51 492.45 L478.54 492.45 L479.57 492.45 L480.61 492.45 L481.64 492.45 L482.67 492.45 L483.71 492.45 L484.74 492.45 L485.77 492.45 L486.80 492.45 L487.84 492.45 L488.87 492.45 L489.90 492.45 L490.93 492.45 L491.97 492.45 L493.00 492.45 L494.03 492.45 L495.06 492.45 L496.10 492.45 L497.13 492.45 L498.16 492.45 L499.20 492.45 L500.23 492.45 L501.26 492.45 L502.29 492.45 L503.33 492.45 L504.36 492.45 L505.39 492.45 L506.42 492.45 L507.46 492.45 L508.49 492.45 L509.52 492.45 L510.55 492.45 L511.59 492.45 L512.62 492.45 L513.65 492.45 L514.69 492.45 L515.72 492.45 L516.75 492.45 L517.78 492.45 L518.82 492.45 L519.85 492.45 L520.88 492.45 L521.91 492.45 L522.95 492.45 L523.98 492.45 L525.01 492.45 L526.04 492.45 L527.08 492.45 L528.11 492.45 L529.14 492.45 L530.18 492.45 L531.21 492.45 L532.24 492.45 L533.27 492.45 L534.31 492.45 L535.34 492.45 L536.37 492.45 L537.40 492.45 L538.44 492.45 L539.47 492.45 L540.50 492.45 L541.00 492.45 M541.00 492.45 L541.53 492.45 L542.57 492.45 L543.60 492.45 L544.63 492.45 L545.67 492.45 L546.70 492.45 L547.73 492.45 L548.76 492.45 L549.80 492.45 L550.83 492.45 L551.86 492.45 L552.89 492.45 L553.93 492.45 L554.96 492.45 L555.99 492.45 L557.02 492.45 L558.06 492.45 L559.09 492.45 L560.12 492.45 L561.16 492.45 L562.19 492.45 L563.22 492.45 L564.25 492.45 L565.29 492.45 L566.32 492.45 L567.35 492.45 L568.38 492.45 L569.42 492.45 L570.45 492.45 L571.48 492.45 L572.51 492.45 L573.55 492.45 L574.58 492.45 L575.61 492.45 L576.65 492.45 L577.68 492.45 L578.71 492.45 L579.74 492.45 L580.78 492.45 L581.81 492.45 L582.84 492.45 L583.87 492.45 L584.91 492.45 L585.94 492.45 L586.97 492.45 L588.00 492.45 L589.04 492.45 L590.07 492.45 L591.10 492.45 L592.14 492.45 L593.17 492.45 L594.20 492.45 L595.23 492.45 L596.27 492.45 L597.30 492.45 L598.33 492.45 L599.36 492.45 L600.40 492.45 L601.43 492.45 L602.46 492.45 L603.49 492.45 L604.53 492.45 L605.56 492.45 L606.59 492.45 L607.63 492.45 L608.66 492.45 L609.69 492.45 L610.72 492.45 L611.76 492.45 L612.79 492.45 L613.82 492.45 L614.85 492.45 L615.89 492.45 L616.92 492.45 L617.80 492.45 M617.80 492.45 L617.95 492.45 L618.98 492.45 L620.02 492.45 L621.05 492.45 L622.08 492.45 L623.12 492.45 L624.15 492.45 L625.18 492.45 L626.21 492.45 L627.25 492.45 L628.28 492.45 L629.31 492.45 L630.34 492.45 L631.38 492.45 L632.41 492.45 L633.44 492.45 L634.47 492.45 L635.51 492.45 L636.54 492.45 L637.57 492.45 L638.61 492.45 L639.64 492.45 L640.67 492.45 L641.70 492.45 L642.74 492.45 L643.77 492.45 L644.80 492.45 L645.83 492.45 L646.87 492.45 L647.90 492.45 L648.93 492.45 L649.96 492.45 L651.00 492.45 L652.03 492.45 L653.06 492.45 L654.10 492.45 L655.13 492.45 L656.16 492.45 L657.19 492.45 L658.23 492.45 L659.26 492.45 L660.29 492.45 L661.32 492.45 L662.36 492.45 L663.39 492.45 L664.42 492.45 L665.45 492.45 L666.49 492.45 L667.52 492.45 L668.55 492.45 L669.59 492.45 L670.62 492.45 L671.65 492.45 L672.68 492.45 L673.72 492.45 L674.75 492.45 L675.78 492.45 L676.81 492.45 L677.85 492.45 L678.88 492.45 L679.91 492.45 L680.94 492.45 L681.98 492.45 L683.01 492.45 L684.04 492.45 L685.08 492.45 L686.11 492.45 L687.14 492.45 L688.17 492.45 L689.21 492.45 L690.24 492.45 L691.27 492.45 L692.30 492.45 L693.34 492.45 L694.37 492.45 L694.60 492.45 M694.60 492.45 L695.40 492.45 L696.43 492.45 L697.47 492.45 L698.50 492.45" stroke="#f0e442" stroke-dasharray="5.76 11.52 34.56 11.52 5.76 11.52"/>
</g>
<path d="M233.80 492.30 L698.50 27.60" stroke="#000" stroke-width="1.3"/>
<g fill="none" stroke-width="2.9">
<path d="M490.30 46.40 H553.10" stroke="#9400d3"/>
<path d="M490.30 69.46 H553.10" stroke="#009e73" stroke-dasharray="11.52 17.28"/>
<path d="M490.30 92.52 H553.10" stroke="#56b4e9" stroke-dasharray="5.76 8.64"/>
<path d="M490.30 115.58 H553.10" stroke="#e69f00" stroke-dasharray="34.56 11.52 5.76 11.52"/>
<path d="M490.30 138.64 H553.10" stroke="#f0e442" stroke-dasharray="5.76 11.52 34.56 11.52 5.76 11.52"/>
</g>
<text transform="translate(476.20 54.09) scale(1 1)" text-anchor="end" style="font-size:23.06px">b=-5</text>
<text transform="translate(476.20 77.15) scale(1 1)" text-anchor="end" style="font-size:23.06px">b=-9</text>
<text transform="translate(476.20 100.21) scale(1 1)" text-anchor="end" style="font-size:23.06px">b=-14</text>
<text transform="translate(476.20 123.27) scale(1 1)" text-anchor="end" style="font-size:23.06px">b=-40</text>
<text transform="translate(476.20 146.33) scale(1 1)" text-anchor="end" style="font-size:23.06px">b=-200</text>
<rect x="233.80" y="27.60" width="464.70" height="464.70" fill="none" stroke="#000" stroke-width="2.6"/>
<text transform="translate(217.30 501.87) scale(1 1.04)" text-anchor="end">0</text>
<text transform="translate(237.65 529.50) scale(1 1.04)" text-anchor="middle">0</text>
<text transform="translate(217.30 439.91) scale(1 1.04)" text-anchor="end">0.02</text>
<text transform="translate(299.61 529.50) scale(1 1.04)" text-anchor="middle">0.02</text>
<text transform="translate(217.30 377.95) scale(1 1.04)" text-anchor="end">0.04</text>
<text transform="translate(361.57 529.50) scale(1 1.04)" text-anchor="middle">0.04</text>
<text transform="translate(217.30 315.99) scale(1 1.04)" text-anchor="end">0.06</text>
<text transform="translate(423.53 529.50) scale(1 1.04)" text-anchor="middle">0.06</text>
<text transform="translate(217.30 254.03) scale(1 1.04)" text-anchor="end">0.08</text>
<text transform="translate(485.49 529.50) scale(1 1.04)" text-anchor="middle">0.08</text>
<text transform="translate(217.30 192.07) scale(1 1.04)" text-anchor="end">0.1</text>
<text transform="translate(547.45 529.50) scale(1 1.04)" text-anchor="middle">0.1</text>
<text transform="translate(217.30 130.11) scale(1 1.04)" text-anchor="end">0.12</text>
<text transform="translate(609.41 529.50) scale(1 1.04)" text-anchor="middle">0.12</text>
<text transform="translate(217.30 68.15) scale(1 1.04)" text-anchor="end">0.14</text>
<text transform="translate(671.37 529.50) scale(1 1.04)" text-anchor="middle">0.14</text>
<text transform="translate(466.15 570.60) scale(1 1.04)" text-anchor="middle">N</text>
<text transform="translate(117.00 259.95) rotate(-90) scale(1 1.04)" text-anchor="middle">1/I(N)</text>
</svg>
</body></html>
